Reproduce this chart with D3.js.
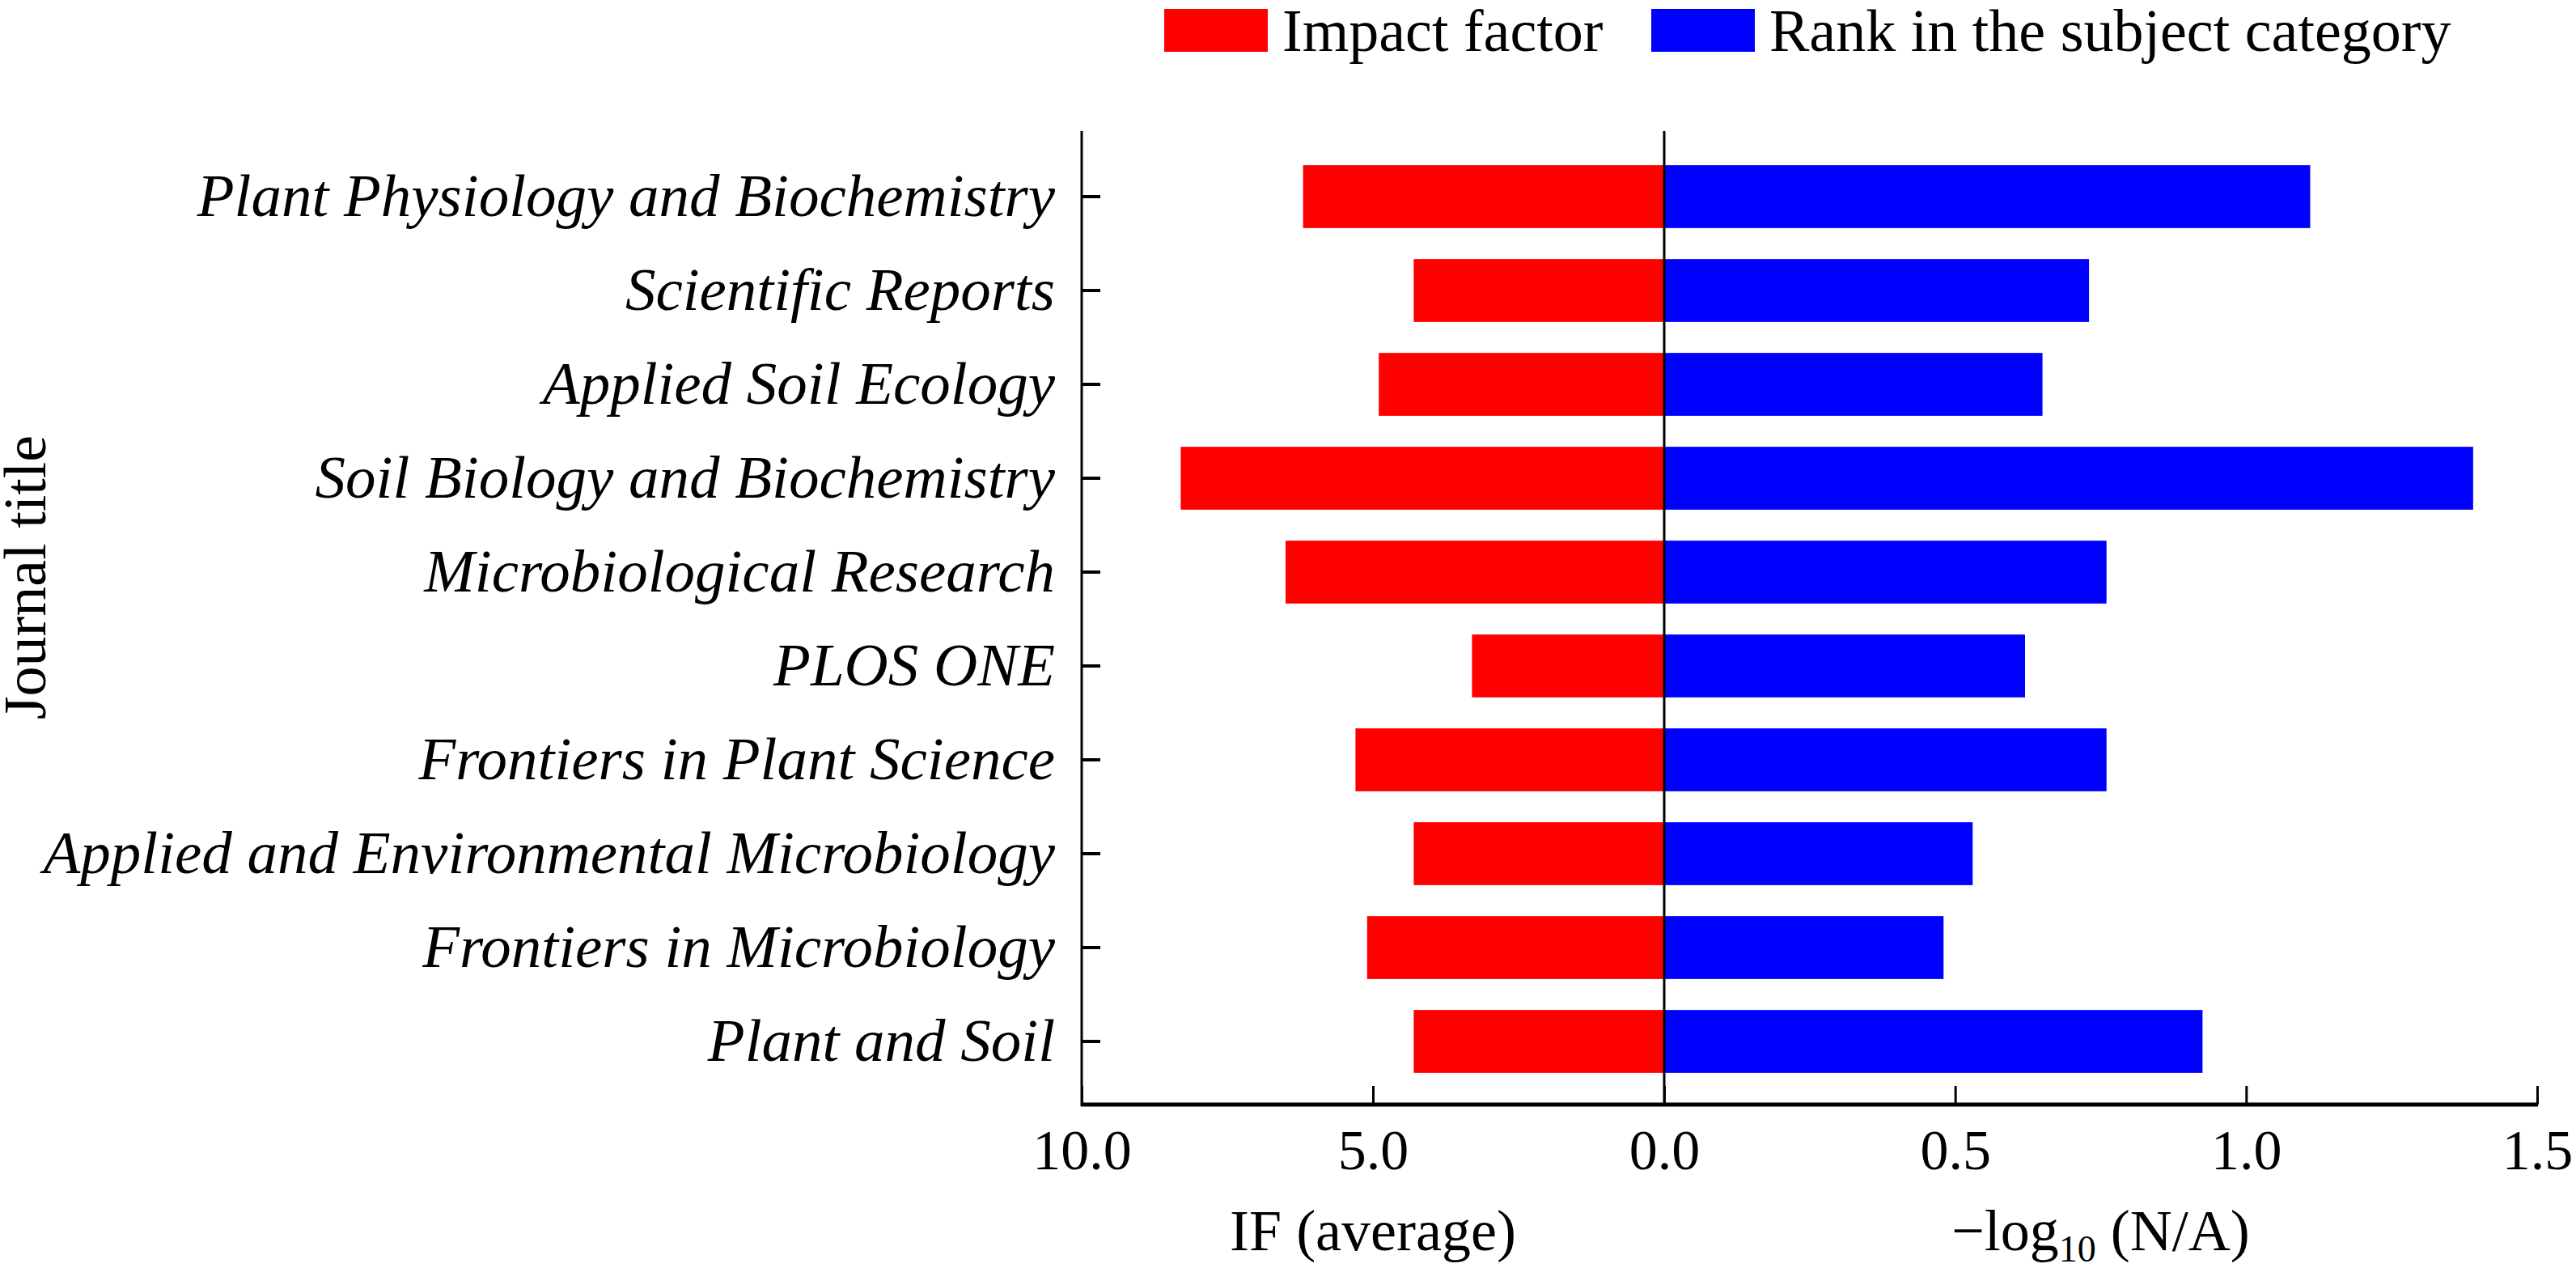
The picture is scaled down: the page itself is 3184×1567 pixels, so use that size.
<!DOCTYPE html>
<html>
<head>
<meta charset="utf-8">
<script src="https://cdn.jsdelivr.net/npm/d3@7"></script>
<style>
  body { margin: 0; background: #fff; }
  text { font-family: "Liberation Serif", "Times New Roman", serif; fill: #000; }
</style>
</head>
<body>
<script>
// journals, top to bottom
const journals = [
  "Plant Physiology and Biochemistry",
  "Scientific Reports",
  "Applied Soil Ecology",
  "Soil Biology and Biochemistry",
  "Microbiological Research",
  "PLOS ONE",
  "Frontiers in Plant Science",
  "Applied and Environmental Microbiology",
  "Frontiers in Microbiology",
  "Plant and Soil"
];
const impactFactor = [6.2, 4.3, 4.9, 8.3, 6.5, 3.3, 5.3, 4.3, 5.1, 4.3];
const rankLog = [1.11, 0.73, 0.65, 1.39, 0.76, 0.62, 0.76, 0.53, 0.48, 0.925];
const leftTicks = [10, 5, 0];
const rightTicks = [0.5, 1.0, 1.5];

const W = 3184, H = 1567;
const x0 = 2057, axisLeft = 1337, axisRight = 3136, axisBottom = 1365, axisTop = 162;

const svg = d3.select("body").append("svg")
  .attr("width", W).attr("height", H);

const xL = d3.scaleLinear().domain([0, 10]).range([x0, axisLeft]);
const xR = d3.scaleLinear().domain([0, 1.5]).range([x0, axisRight]);
const y = d3.scaleBand().domain(journals).range([185, 1345])
  .paddingInner(0.33).paddingOuter(0.165);

// bars
svg.selectAll("rect.if")
  .data(journals)
  .enter().append("rect")
  .attr("x", (d, i) => xL(impactFactor[i]))
  .attr("y", d => y(d))
  .attr("width", (d, i) => x0 - xL(impactFactor[i]))
  .attr("height", y.bandwidth())
  .attr("fill", "#ff0000");

svg.selectAll("rect.rank")
  .data(journals)
  .enter().append("rect")
  .attr("x", x0)
  .attr("y", d => y(d))
  .attr("width", (d, i) => xR(rankLog[i]) - x0)
  .attr("height", y.bandwidth())
  .attr("fill", "#0000ff");

// zero line
svg.append("line")
  .attr("x1", x0).attr("x2", x0).attr("y1", axisTop).attr("y2", axisBottom)
  .attr("stroke", "#000").attr("stroke-width", 3);

// y axis
const gy = svg.append("g").attr("transform", `translate(${axisLeft},0)`)
  .call(d3.axisLeft(y).tickSize(-23).tickPadding(33));
gy.select(".domain").remove();
gy.selectAll(".tick line").attr("stroke-width", 4);
gy.selectAll(".tick text").attr("font-size", 75).attr("font-style", "italic")
  .style("font-family", "'Liberation Serif', serif");

// x axes
function xAxis(scale, ticks) {
  const g = svg.append("g").attr("transform", `translate(0,${axisBottom})`)
    .call(d3.axisBottom(scale).tickValues(ticks).tickFormat(d3.format(".1f"))
      .tickSize(-23).tickPadding(30));
  g.select(".domain").remove();
  g.selectAll(".tick line").attr("stroke-width", 3);
  g.selectAll(".tick text").attr("font-size", 70)
    .style("font-family", "'Liberation Serif', serif");
}
xAxis(xL, leftTicks);
xAxis(xR, rightTicks);

svg.append("line")
  .attr("x1", axisLeft).attr("x2", axisLeft).attr("y1", axisTop).attr("y2", axisBottom + 2)
  .attr("stroke", "#000").attr("stroke-width", 3);
svg.append("line")
  .attr("x1", axisLeft - 1).attr("x2", axisRight + 1).attr("y1", axisBottom).attr("y2", axisBottom)
  .attr("stroke", "#000").attr("stroke-width", 5);

// axis titles
svg.append("text").attr("x", (axisLeft + x0) / 2).attr("y", 1545)
  .attr("text-anchor", "middle").attr("font-size", 72).text("IF (average)");
const t = svg.append("text").attr("x", (x0 + axisRight) / 2).attr("y", 1545)
  .attr("text-anchor", "middle").attr("font-size", 72);
t.append("tspan").text("\u2212log");
t.append("tspan").attr("font-size", 46).attr("dy", 14).text("10");
t.append("tspan").attr("dy", -14).text(" (N/A)");

svg.append("text")
  .attr("transform", `translate(56,${(axisTop + axisBottom) / 2 - 50}) rotate(-90)`)
  .attr("text-anchor", "middle").attr("font-size", 74).text("Journal title");

// legend
const legend = [
  { label: "Impact factor", color: "#ff0000", x: 1439 },
  { label: "Rank in the subject category", color: "#0000ff", x: 2041 }
];
const lg = svg.selectAll("g.legend").data(legend).enter().append("g")
  .attr("transform", d => `translate(${d.x},0)`);
lg.append("rect").attr("x", 0).attr("y", 11).attr("width", 128).attr("height", 53)
  .attr("fill", d => d.color);
lg.append("text").attr("x", 146).attr("y", 63).attr("font-size", 74).text(d => d.label);
</script>
</body>
</html>
